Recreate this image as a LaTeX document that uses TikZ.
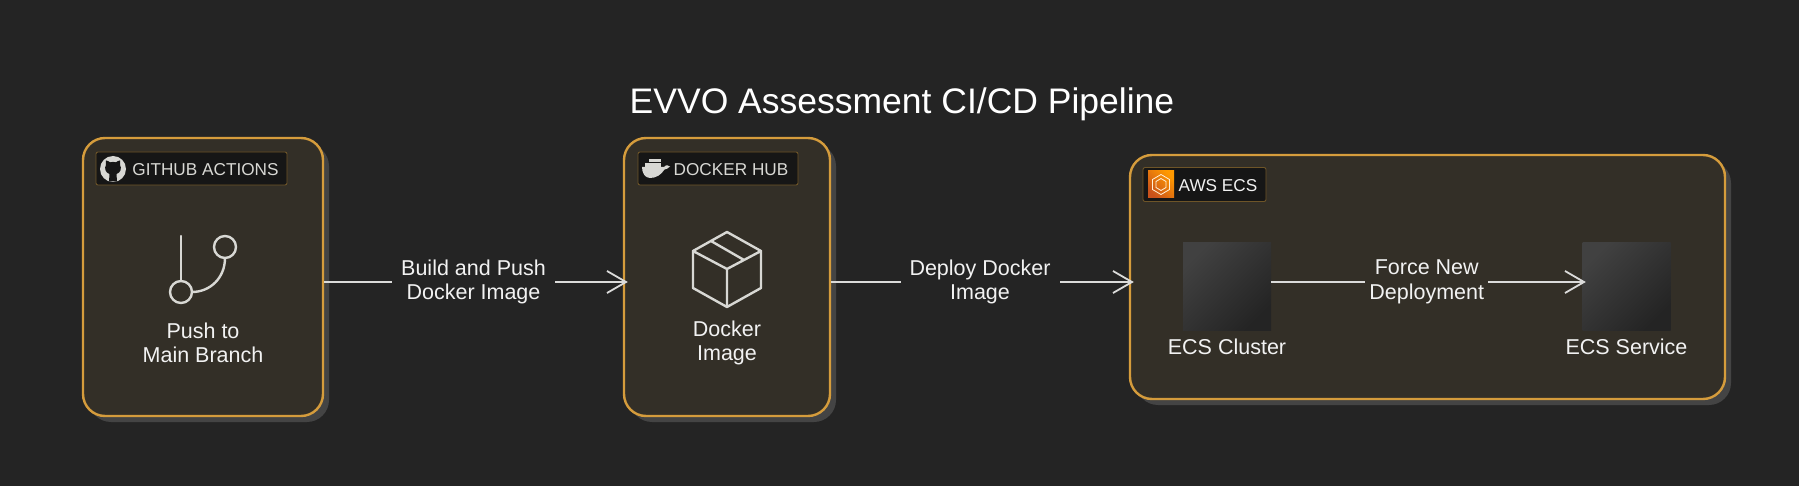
\documentclass[tikz,border=0pt]{standalone}
\usepackage{fontspec}
\setmainfont{Liberation Sans}
\usetikzlibrary{arrows.meta, positioning, shadows}

\definecolor{pagebg}{HTML}{242424}
\definecolor{boxbg}{HTML}{332F27}
\definecolor{boxline}{HTML}{D59C3C}
\definecolor{boxshadow}{HTML}{444444}
\definecolor{chipbg}{HTML}{161616}
\definecolor{chipline}{HTML}{6E5528}
\definecolor{inktext}{HTML}{F2F2F2}
\definecolor{iconink}{HTML}{D8D8D4}
\definecolor{awslow}{HTML}{C8511B}
\definecolor{awshigh}{HTML}{FF9900}

\begin{document}
\begin{tikzpicture} [x = 1pt, y = -1pt, node distance = 4pt, inner sep = 0pt,
every node/.style={text = inktext, font=\fontsize{21.5}{24.5}\selectfont, align = center},
groupbox/.style = {draw = boxline, line width = 2.4pt, fill = boxbg, rounded corners = 22pt,
    drop shadow = {shadow xshift = 6pt, shadow yshift = -6pt, fill = boxshadow, opacity = 1}},
chip/.style = {draw = chipline, line width = 0.9pt, fill = chipbg, rounded corners = 2pt},
chiptext/.style = {text = iconink, font=\fontsize{17.2}{20}\selectfont},
flowlabel/.style = {fill = pagebg, inner xsep = 9pt, inner ysep = 4pt},
ecssquare/.style = {minimum size = 88pt, top color = boxshadow!90!pagebg, middle color = pagebg,
    bottom color = pagebg, shading angle = 45},
iconline/.style = {draw = iconink, line width = 2.4pt, line join = round, line cap = round},
flow/.style = {draw = inktext!88!boxbg, line width = 2.4pt, shorten > = -5pt,
    -{Straight Barb[length = 19pt, width = 22pt, line width = 1.8pt]}}]

\useasboundingbox (0,0) rectangle (1799,486);
\fill [pagebg] (0,0) rectangle (1799,486);

\node (title) at (902,104) [font=\fontsize{35.5}{40}\selectfont, text = white] {EVVO Assessment CI/CD Pipeline};

% groups
\node (gitbox) at (203,277) [groupbox, minimum width = 240pt, minimum height = 278pt] {};
\node (dockerbox) at (727,277) [groupbox, minimum width = 206pt, minimum height = 278pt] {};
\node (ecsbox) at (1427.5,277) [groupbox, minimum width = 595pt, minimum height = 244pt] {};

% group headers
\node (gitchip) at (191.5,168.5) [chip, minimum width = 191pt, minimum height = 33pt] {};
\node (dockerchip) at (718,168.5) [chip, minimum width = 160pt, minimum height = 33pt] {};
\node (ecschip) at (1204.5,184.5) [chip, minimum width = 123pt, minimum height = 34pt] {};
\node (gittag) at (205.5,169.5) [chiptext] {GITHUB ACTIONS};
\node (dockertag) at (731,169.5) [chiptext] {DOCKER HUB};
\node (ecstag) at (1218,185.5) [chiptext, text = inktext] {AWS ECS};

% github mark
\fill [iconink] (113,169) circle (13);
\fill [chipbg] (106,165) .. controls (105.5,162) and (106,160.5) .. (106,160.5) .. controls (107.5,160.5) and (109,161.5) .. (110,162.3)
    .. controls (112,161.8) and (114,161.8) .. (116,162.3) .. controls (117,161.5) and (118.5,160.5) .. (120,160.5)
    .. controls (120,160.5) and (120.5,162) .. (120,165) .. controls (122,168) and (120.5,173) .. (116.5,174)
    -- (117,181.5) -- (109,181.5) -- (109.5,174) .. controls (105.5,173) and (104,168) .. (106,165) -- cycle;

% docker whale
\fill [iconink] (642,167) -- (664,167) .. controls (666,164.5) and (668,165) .. (670,166.5)
    .. controls (668,168.5) and (666,169.5) .. (664.5,169.5) .. controls (661,175) and (656,178) .. (650,178)
    .. controls (645,178) and (642,173) .. (642,167) -- cycle;
\foreach \blockx in {645,649,653,657} \fill [iconink] (\blockx,162.8) rectangle +(3.6,4.4);
\foreach \blockx in {649,653,657} \fill [iconink] (\blockx,158.8) rectangle +(3.6,3.6);

% aws mark
\shade [top color = awslow, bottom color = awshigh, shading angle = 135] (1148,171) rectangle (1174,198);
\draw [white!85!awshigh, line width = 0.8pt] (1161,174.5) -- (1169.5,179.5) -- (1169.5,189.5) -- (1161,194.5) -- (1152.5,189.5) -- (1152.5,179.5) -- cycle
    (1161,178.5) -- (1166,181.5) -- (1166,187.5) -- (1161,190.5) -- (1156,187.5) -- (1156,181.5) -- cycle;

% branch icon
\draw [iconline] (181,236) -- (181,281);
\draw [iconline] (181,292) circle (11);
\draw [iconline] (225,247) circle (11);
\draw [iconline] (225,258) .. controls (225,278) and (210,292) .. (192,292);
\node (pushtext) at (203,343) {Push to\\Main Branch};

% box icon
\draw [iconline] (727,232) -- (761,251) -- (761,288) -- (727,307) -- (693,288) -- (693,251) -- cycle
    (693,251) -- (727,269) -- (761,251) (727,269) -- (727,307) (711,241) -- (744,260);
\node (imagetext) at (727,343) {Docker\\Image};

% ecs items
\node (cluster) at (1227,286.5) [ecssquare] {};
\node (service) at (1626.5,286.5) [ecssquare] {};
\node (clustertext) [below = 8.5pt of cluster] {ECS Cluster};
\node (servicetext) [below = 8.5pt of service] {ECS Service};

% connectors
\draw [flow] ([yshift=-5pt]gitbox.east) -- node [flowlabel] {Build and Push\\Docker Image} ([yshift=-5pt]dockerbox.west);
\draw [flow] ([yshift=-5pt]dockerbox.east) -- node [flowlabel] {Deploy Docker\\Image} ([yshift=-5pt]ecsbox.west);
\draw [flow, shorten > = -3.5pt] ([yshift=4.5pt]cluster.east) -- node [flowlabel, fill = boxbg, inner xsep = 4pt] {Force New\\Deployment} ([yshift=4.5pt]service.west);
\end{tikzpicture}
\end{document}
